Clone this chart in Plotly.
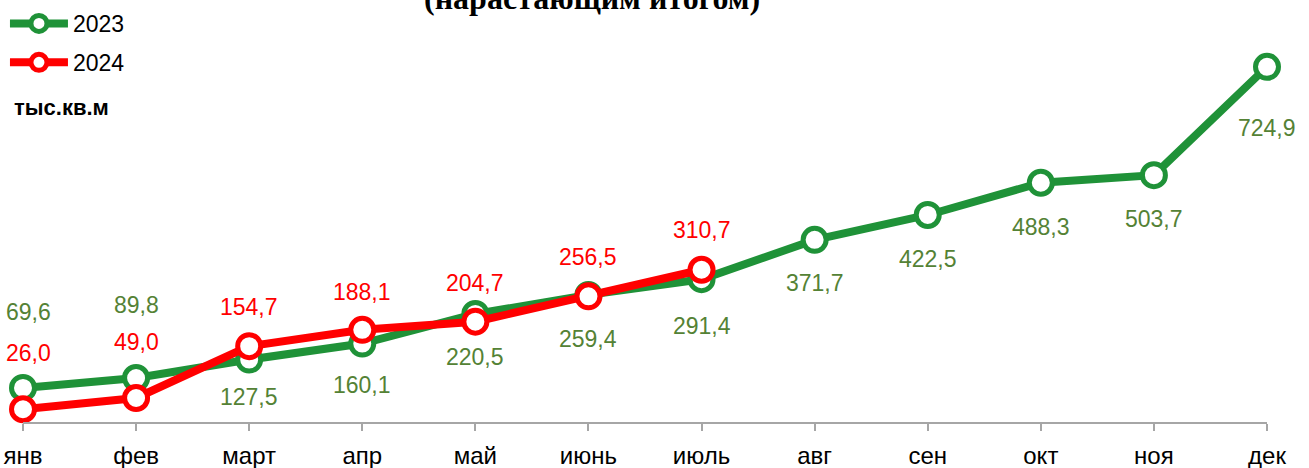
import plotly.graph_objects as go

months = ["янв", "фев", "март", "апр", "май", "июнь", "июль", "авг", "сен", "окт", "ноя", "дек"]
values_2023 = [69.6, 89.8, 127.5, 160.1, 220.5, 259.4, 291.4, 371.7, 422.5, 488.3, 503.7, 724.9]
values_2024 = [26.0, 49.0, 154.7, 188.1, 204.7, 256.5, 310.7]
months_2024 = months[:len(values_2024)]

# label placement (pixel offsets from the point)
shift_2023 = [76, 73, -37, -41, -43, -44, -47, -43, -44, -44, -44, -61]
shift_2024 = [56, 56, 39, 38, 39, 39, 40]
xshift_first = 5

GREEN = "#1F9238"
GREEN_TXT = "#548235"
RED = "#FF0000"

def fmt(v):
    return f"{v:.1f}".replace(".", ",")

fig = go.Figure()
fig.add_trace(go.Scatter(
    x=months, y=values_2023, name="2023", mode="lines+markers",
    line=dict(color=GREEN, width=8),
    marker=dict(symbol="circle", size=23, color="white", line=dict(color=GREEN, width=5)),
    cliponaxis=False, legendgroup="a",
))
fig.add_trace(go.Scatter(
    x=months_2024, y=values_2024, name="2024", mode="lines+markers",
    line=dict(color=RED, width=8),
    marker=dict(symbol="circle", size=23, color="white", line=dict(color=RED, width=5)),
    cliponaxis=False, legendgroup="b",
))

annotations = []
for i, (m, v) in enumerate(zip(months, values_2023)):
    annotations.append(dict(x=m, y=v, text=fmt(v), showarrow=False,
                            yshift=shift_2023[i], xshift=xshift_first if i == 0 else 0,
                            font=dict(family="Liberation Sans", size=23, color=GREEN_TXT)))
for i, (m, v) in enumerate(zip(months_2024, values_2024)):
    annotations.append(dict(x=m, y=v, text=fmt(v), showarrow=False,
                            yshift=shift_2024[i], xshift=xshift_first if i == 0 else 0,
                            font=dict(family="Liberation Sans", size=23, color=RED)))

annotations.append(dict(xref="paper", yref="paper", x=0.4574, y=1.1095, xanchor="center", yanchor="middle",
                        text="<b>(нарастающим итогом)</b>", showarrow=False,
                        font=dict(family="Liberation Serif", size=32, color="black")))
annotations.append(dict(xref="paper", yref="paper", x=-0.0088, y=0.8246, xanchor="left", yanchor="middle",
                        text="<b>тыс.кв.м</b>", showarrow=False,
                        font=dict(family="Liberation Sans", size=22, color="black")))
fig.update_layout(
    width=1309, height=468,
    margin=dict(l=23, r=42, t=40, b=46, autoexpand=False),
    plot_bgcolor="white", paper_bgcolor="white",
    showlegend=True,
    legend=dict(x=-0.0145, y=1.0995, xanchor="left", yanchor="top",
                font=dict(family="Liberation Sans", size=23, color="black"),
                tracegroupgap=6, itemwidth=58, bgcolor="rgba(0,0,0,0)"),
    annotations=annotations,
    xaxis=dict(type="category", range=[0, 11], showgrid=False, zeroline=False,
               showline=True, linecolor="#A6A6A6", linewidth=2,
               ticks="outside", ticklen=7, tickcolor="#A6A6A6", tickwidth=2,
               ticklabelstandoff=4,
               tickfont=dict(family="Liberation Sans", size=24, color="black")),
    yaxis=dict(range=[0, 779.6], showgrid=False, zeroline=False, showline=False,
               showticklabels=False, ticks=""),
)

fig.write_html("out.html", config={"displayModeBar": False},
               post_script="document.body.style.margin='0';document.body.style.overflow='hidden';")
